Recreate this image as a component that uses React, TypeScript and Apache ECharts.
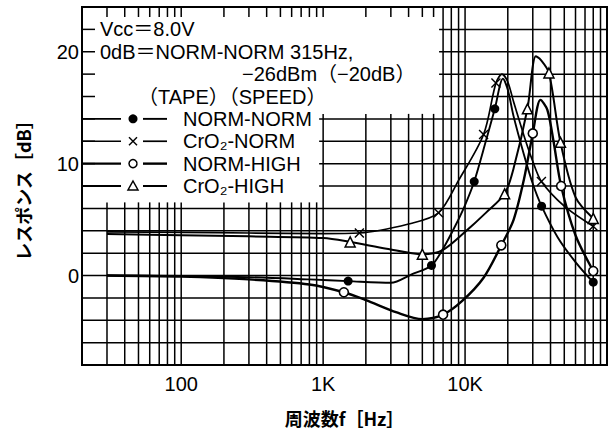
import React, { useEffect, useRef } from "react";
import * as echarts from "echarts";

// ---- axis / tick data ----
const xMin = 20;
const xMax = 100000;
const yMin = -8;
const yMax = 24;
const yStep = 2;
const xTickValues = [100, 1000, 10000];
const xTickLabels = ["100", "1K", "10K"];
const yTickLabels = [0, 10, 20];

const verticalGridFreqs = [
  30, 40, 50, 60, 70, 80, 90, 100,
  200, 300, 400, 500, 600, 700, 800, 900, 1000,
  2000, 3000, 4000, 5000, 6000, 7000, 8000, 9000, 10000,
  20000, 30000, 40000, 50000, 60000, 70000, 80000, 90000,
];
const horizontalGridDb = [-6, -4, -2, 0, 2, 4, 6, 8, 10, 12, 14, 16, 18, 20, 22];

// stepped blank annotation area: below 6 dB / 14 dB it is gridded
const boxLowFreq = 1000;
const boxHighFreq = 7000;
const boxLowDb = 6;
const boxHighDb = 14;

// ---- series data: [frequency Hz, response dB, marker shown (1) or not (0)] ----
const normNorm: [number, number, number][] = [
  [30, 0.0, 0], [100, -0.05, 0], [300, -0.15, 0], [800, -0.35, 0],
  [1500, -0.5, 1], [3000, -0.65, 0], [4200, 0.1, 0], [5800, 0.9, 1],
  [7000, 2.4, 0], [8500, 4.4, 0], [10000, 6.3, 0], [11600, 8.4, 1],
  [14000, 12.0, 0], [16200, 14.9, 1], [18500, 17.6, 0], [20000, 16.6, 0],
  [22000, 14.2, 0], [26000, 10.8, 0], [30000, 8.2, 0], [34600, 6.2, 1],
  [45000, 3.4, 0], [60000, 1.2, 0], [80000, -0.6, 1],
];
const crO2Norm: [number, number, number][] = [
  [30, 3.9, 0], [100, 3.85, 0], [300, 3.8, 0], [1000, 3.75, 0],
  [1800, 3.8, 1], [4000, 4.6, 0], [6500, 5.6, 1], [9000, 8.5, 0],
  [13500, 12.6, 1], [16500, 17.2, 1], [18200, 18.0, 0], [20000, 17.3, 0],
  [22000, 15.5, 0], [26000, 12.5, 0], [30000, 10.2, 0], [34500, 8.4, 1],
  [50000, 6.2, 0], [80000, 4.4, 1],
];
const normHigh: [number, number, number][] = [
  [30, 0.0, 0], [100, -0.1, 0], [300, -0.35, 0], [800, -0.8, 0],
  [1400, -1.5, 1], [2000, -2.2, 0], [3300, -3.3, 0], [5000, -3.9, 0],
  [7000, -3.5, 1], [9500, -2.3, 0], [13500, -0.2, 0], [18000, 2.7, 1],
  [22000, 5.0, 0], [26000, 8.6, 0], [30000, 12.7, 1], [34000, 15.7, 0],
  [38000, 14.8, 0], [42000, 12.0, 0], [47500, 8.0, 1], [60000, 3.6, 0],
  [80000, 0.4, 1],
];
const crO2High: [number, number, number][] = [
  [30, 3.7, 0], [100, 3.6, 0], [300, 3.5, 0], [1000, 3.35, 0],
  [1550, 3.0, 1], [2800, 2.4, 0], [5000, 1.9, 1], [7000, 2.3, 0],
  [10000, 3.9, 0], [14000, 5.6, 0], [19000, 7.3, 1], [22000, 9.6, 0],
  [27500, 14.9, 1], [31500, 19.6, 0], [34000, 19.3, 0], [39000, 18.1, 1],
  [47000, 11.9, 1], [60000, 7.0, 0], [80000, 5.1, 1],
];

const seriesNames = ["NORM-NORM", "CrO₂-NORM", "NORM-HIGH", "CrO₂-HIGH"];
const legendRowDb = [14, 12, 10, 8];

// ---- annotation texts ----
const noteTexts = ["Vcc＝8.0V", "0dB＝NORM-NORM 315Hz,", "−26dBm（−20dB）", "（TAPE）（SPEED）"];
const noteRowDb = [22, 20, 18, 16];
const noteOffsetX = [18, 18, 160, 56];

const xAxisName = "周波数f［Hz］";
const yAxisName = "レスポンス［dB］";

const FONT = '"Liberation Sans", "DejaVu Sans", "Noto Sans CJK JP", sans-serif';
const CJK = '"Noto Sans CJK JP", "Liberation Sans", sans-serif';
const CROSS = "path://M2,0L10,8L18,0L20,2L12,10L20,18L18,20L10,12L2,20L0,18L8,10L0,2Z";

const seriesStyles = [
  { symbol: "circle", size: 9, item: { color: "#000" }, width: 1.9 },
  { symbol: CROSS, size: 10, item: { color: "#000" }, width: 1.7 },
  { symbol: "circle", size: 9, item: { color: "#fff", borderColor: "#000", borderWidth: 1.6 }, width: 2.4 },
  { symbol: "triangle", size: 10, item: { color: "#fff", borderColor: "#000", borderWidth: 1.5 }, width: 2.0 },
];
const seriesData = [normNorm, crO2Norm, normHigh, crO2High];

function legendSymbol(i: number, cx: number, cy: number) {
  if (i === 0) return [{ type: "circle", shape: { cx, cy, r: 4.5 }, style: { fill: "#000" } }];
  if (i === 1)
    return [
      { type: "line", shape: { x1: cx - 4, y1: cy - 4, x2: cx + 4, y2: cy + 4 }, style: { stroke: "#000", lineWidth: 1.5 } },
      { type: "line", shape: { x1: cx - 4, y1: cy + 4, x2: cx + 4, y2: cy - 4 }, style: { stroke: "#000", lineWidth: 1.5 } },
    ];
  if (i === 2) return [{ type: "circle", shape: { cx, cy, r: 4 }, style: { fill: "#fff", stroke: "#000", lineWidth: 1.5 } }];
  return [
    {
      type: "polygon",
      shape: { points: [[cx, cy - 5], [cx + 5, cy + 4], [cx - 5, cy + 4]] },
      style: { fill: "#fff", stroke: "#000", lineWidth: 1.5 },
    },
  ];
}

export default function App() {
  const ref = useRef<HTMLDivElement>(null);
  useEffect(() => {
    document.body.style.margin = "0";
    if (!ref.current) return;
    const chart = echarts.init(ref.current, undefined, { renderer: "svg" });

    const gridData = [
      ...verticalGridFreqs.map((f) => [f, 0, 0]),
      ...horizontalGridDb.map((d) => [xMin, d, 1]),
    ];

    const gridStyle = { stroke: "#000", lineWidth: 1.5 };

    const gridSeries = {
      type: "custom",
      name: "grid",
      silent: true,
      z: 1,
      coordinateSystem: "cartesian2d",
      encode: { x: 0, y: 1 },
      data: gridData,
      renderItem: (params: any, api: any) => {
        const cs = params.coordSys;
        const left = cs.x;
        const right = cs.x + cs.width;
        const top = cs.y;
        const bottom = cs.y + cs.height;
        const xLow = api.coord([boxLowFreq, 0])[0];
        const xHigh = api.coord([boxHighFreq, 0])[0];
        const yLow = api.coord([xMin, boxLowDb])[1];
        const yHigh = api.coord([xMin, boxHighDb])[1];
        const kind = api.value(2);
        const children: any[] = [];
        if (kind === 0) {
          const f = api.value(0);
          const x = api.coord([f, 0])[0];
          if (f >= boxHighFreq) {
            children.push({ type: "line", shape: { x1: x, y1: top, x2: x, y2: bottom }, style: gridStyle });
          } else {
            const yStart = f >= boxLowFreq ? yHigh - 5 : yLow - 6;
            children.push({ type: "line", shape: { x1: x, y1: yStart, x2: x, y2: bottom }, style: gridStyle });
            children.push({ type: "line", shape: { x1: x, y1: top, x2: x, y2: top + 10 }, style: gridStyle });
          }
        } else {
          const d = api.value(1);
          const y = api.coord([xMin, d])[1];
          if (d <= boxLowDb) {
            children.push({ type: "line", shape: { x1: left, y1: y, x2: right, y2: y }, style: gridStyle });
          } else {
            const xStart = d <= boxHighDb ? xLow - 4 : xHigh - 4;
            children.push({ type: "line", shape: { x1: xStart, y1: y, x2: right, y2: y }, style: gridStyle });
            children.push({ type: "line", shape: { x1: left, y1: y, x2: left + 13, y2: y }, style: gridStyle });
          }
        }
        return { type: "group", children };
      },
    };

    const annotationSeries = {
      type: "custom",
      name: "annotation",
      silent: true,
      z: 5,
      coordinateSystem: "cartesian2d",
      encode: { x: 0, y: 1 },
      data: [[xMin, 0]],
      renderItem: (params: any, api: any) => {
        const cs = params.coordSys;
        const left = cs.x;
        const children: any[] = [];
        noteTexts.forEach((t, i) => {
          const y = api.coord([xMin, noteRowDb[i]])[1];
          children.push({
            type: "text",
            x: left + noteOffsetX[i],
            y,
            style: { text: t, fill: "#000", fontSize: 20, fontFamily: FONT, align: "left", verticalAlign: "middle" },
          });
        });
        seriesNames.forEach((name, i) => {
          const y = api.coord([xMin, legendRowDb[i]])[1];
          const w = seriesStyles[i].width;
          children.push({ type: "line", shape: { x1: left, y1: y, x2: left + 39, y2: y }, style: { stroke: "#000", lineWidth: w } });
          children.push({ type: "line", shape: { x1: left + 61, y1: y, x2: left + 85, y2: y }, style: { stroke: "#000", lineWidth: w } });
          children.push(...legendSymbol(i, left + 51, y));
          children.push({
            type: "text",
            x: left + 101,
            y,
            style: { text: name, fill: "#000", fontSize: 20, fontFamily: FONT, align: "left", verticalAlign: "middle" },
          });
        });
        return { type: "group", children };
      },
    };

    const curveSeries = seriesData.map((arr, i) => ({
      type: "line",
      name: seriesNames[i],
      smooth: 0.3,
      symbol: seriesStyles[i].symbol,
      symbolSize: seriesStyles[i].size,
      showAllSymbol: true,
      z: 3,
      lineStyle: { color: "#000", width: seriesStyles[i].width },
      itemStyle: seriesStyles[i].item,
      data: arr.map(([f, d, m]) => (m ? { value: [f, d] } : { value: [f, d], symbol: "none" })),
    }));

    chart.setOption({
      animation: false,
      backgroundColor: "#fff",
      grid: {
        left: 82,
        top: 7,
        width: 525,
        height: 358,
        show: true,
        borderColor: "#000",
        borderWidth: 2,
        backgroundColor: "transparent",
      },
      xAxis: {
        type: "log",
        logBase: 10,
        min: xMin,
        max: xMax,
        axisLine: { show: false },
        axisTick: { show: false },
        splitLine: { show: false },
        axisLabel: {
          color: "#000",
          fontSize: 20,
          fontFamily: FONT,
          margin: 9,
          formatter: (v: number) => {
            const idx = xTickValues.indexOf(Math.round(v));
            return idx >= 0 ? xTickLabels[idx] : "";
          },
        },
        name: xAxisName,
        nameLocation: "middle",
        nameGap: 44,
        nameTextStyle: { color: "#000", fontSize: 18, fontFamily: CJK, fontWeight: "bold" },
      },
      yAxis: {
        type: "value",
        min: yMin,
        max: yMax,
        interval: yStep,
        axisLine: { show: false },
        axisTick: { show: false },
        splitLine: { show: false },
        axisLabel: {
          color: "#000",
          fontSize: 20,
          fontFamily: FONT,
          margin: 3,
          formatter: (v: number) => (yTickLabels.includes(v) ? String(v) : ""),
        },
        name: yAxisName,
        nameLocation: "middle",
        nameRotate: 90,
        nameGap: 50,
        nameTextStyle: { color: "#000", fontSize: 18, fontFamily: CJK, fontWeight: "bold" },
      },
      series: [gridSeries, ...curveSeries, annotationSeries],
    });

    return () => chart.dispose();
  }, []);

  return <div ref={ref} style={{ width: 610, height: 434 }} />;
}
